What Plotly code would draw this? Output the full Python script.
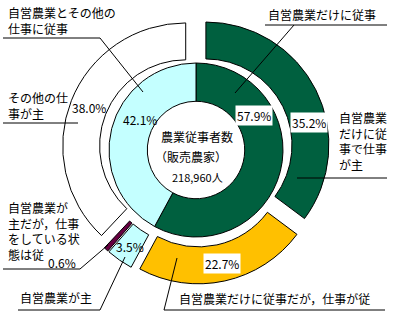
import plotly.graph_objects as go

W, H = 395, 324

# ---- data ----
inner_labels = ["自営農業だけに従事", "自営農業とその他の仕事に従事"]
inner_values = [57.9, 42.1]
outer_labels = ["自営農業だけに従事で仕事が主", "自営農業だけに従事だが，仕事が従",
                "自営農業が主", "自営農業が主だが，仕事をしている状態は従", "その他の仕事が主"]
outer_values = [35.2, 22.7, 3.5, 0.6, 38.0]
center_title = ["農業従事者数", "（販売農家）", "218,960人"]

GREEN = "#00603F"
CYAN = "#C4FFFF"
ORANGE = "#FFC000"
PURPLE = "#660040"
WHITE = "#FFFFFF"
inner_colors = [GREEN, CYAN]
outer_colors = [GREEN, ORANGE, CYAN, PURPLE, WHITE]

FONT = "Noto Sans CJK JP"


def px(x):
    return x / W


def py(y):
    return 1 - y / H


cx, cy = 196, 150
R_out, pull = 123, 0.09
R_in = 87
half_out = R_out * (1 + pull)

fig = go.Figure()
fig.add_trace(go.Pie(
    values=outer_values, labels=outer_labels, sort=False, direction="clockwise",
    rotation=0, hole=0.70, pull=[pull] * len(outer_values),
    marker=dict(colors=outer_colors, line=dict(color="black", width=1)),
    textinfo="none", hoverinfo="label+value", showlegend=False,
    domain=dict(x=[px(cx - half_out), px(cx + half_out)],
                y=[py(cy + half_out), py(cy - half_out)]),
))
fig.add_trace(go.Pie(
    values=inner_values, labels=inner_labels, sort=False, direction="clockwise",
    rotation=0, hole=0.56,
    marker=dict(colors=inner_colors, line=dict(color="black", width=1)),
    textinfo="none", hoverinfo="label+value", showlegend=False,
    domain=dict(x=[px(cx - R_in), px(cx + R_in)],
                y=[py(cy + R_in), py(cy - R_in)]),
))

annotations = []


def txt(text, x, y, xanchor="left", size=12, bg=None):
    a = dict(text=text, x=px(x), y=py(y), xref="paper", yref="paper",
             xanchor=xanchor, yanchor="middle", showarrow=False,
             font=dict(family=FONT, size=size, color="black"), align="left")
    if bg:
        a["bgcolor"] = bg
        a["borderpad"] = 1
    annotations.append(a)


# category labels
txt("自営農業とその他の<br>仕事に従事", 6, 21)
txt("その他の仕<br>事が主", 6, 105)
txt("自営農業だけに従事", 266, 15)
txt("自営農業<br>だけに従<br>事で仕事<br>が主", 337, 140.5)
txt("自営農業だけに従事だが，仕事が従", 177, 298)
txt("自営農業が主", 18, 297)
txt("自営農業が<br>主だが，仕事<br>をしている状<br>態は従", 6, 230.5)

# percent labels
pct = lambda v: f"{v:.1f}%"
txt(pct(inner_values[0]), 254, 115, "center", bg="white")
txt(pct(inner_values[1]), 140, 119, "center")
txt(pct(outer_values[0]), 309, 122, "center", bg="white")
txt(pct(outer_values[1]), 222, 263, "center", bg="white")
txt(pct(outer_values[2]), 130, 246, "center")
txt(pct(outer_values[3]), 62, 262, "center")
txt(pct(outer_values[4]), 89, 108, "center")

# center title
txt(center_title[0], 197, 136, "center")
txt(center_title[1], 191, 157, "center")
txt(center_title[2], 197, 177, "center", size=11)

# leader lines
segs = [
    ((3, 38), (100, 38)), ((100, 38), (143, 92)),
    ((3, 123), (78, 123)),
    ((265, 25), (387, 25)), ((294, 25), (235, 93)),
    ((297, 178), (387, 178)),
    ((164, 310), (385, 310)), ((164, 310), (177, 258)),
    ((18, 310), (100, 310)), ((100, 310), (125, 257)),
    ((3, 269), (80, 269)), ((80, 269), (108, 245)),
]
shapes = [dict(type="line", xref="paper", yref="paper",
               x0=px(a[0]), y0=py(a[1]), x1=px(b[0]), y1=py(b[1]),
               line=dict(color="black", width=1)) for a, b in segs]

fig.update_layout(
    width=W, height=H, margin=dict(l=0, r=0, t=0, b=0),
    paper_bgcolor="white", plot_bgcolor="white",
    annotations=annotations, shapes=shapes,
    font=dict(family=FONT),
)
fig.write_html("out.html", config={"displayModeBar": False})
